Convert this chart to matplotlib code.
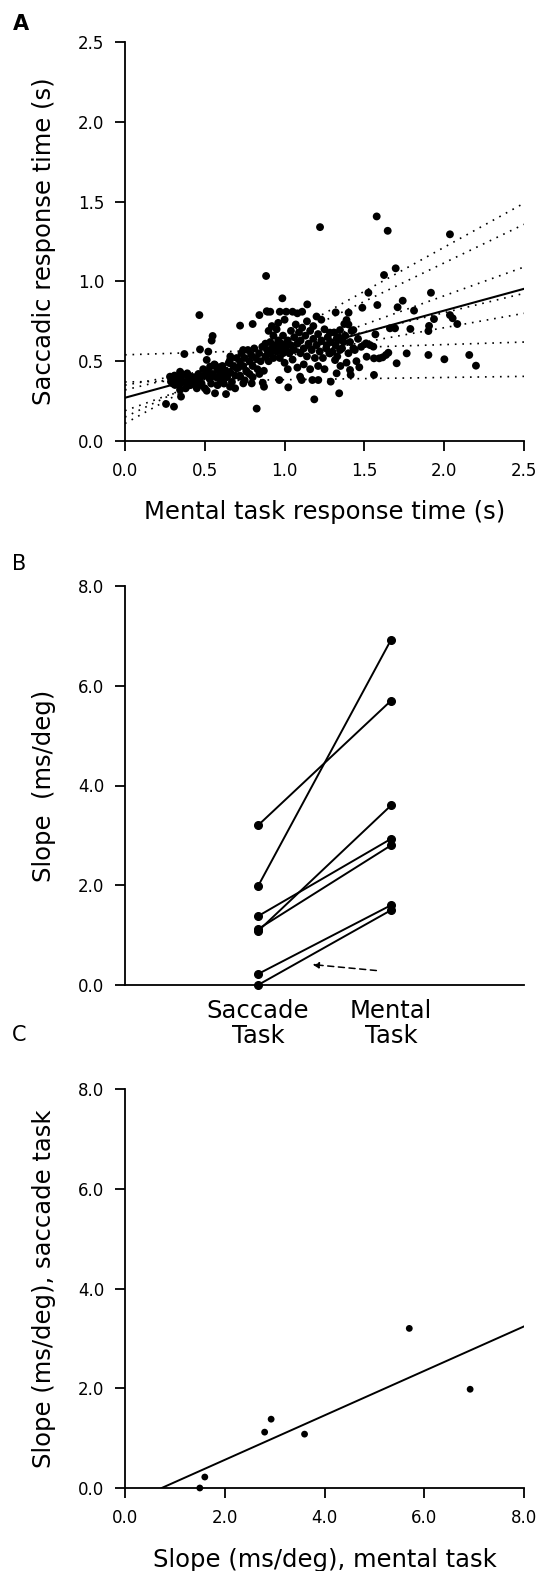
import numpy as np
import matplotlib.pyplot as plt
from matplotlib.ticker import FormatStrFormatter

plt.rcParams['font.family'] = ['DejaVu Sans']

# A: trial response times (s), mental task vs saccade
mental_rt = [
    1.222, 1.577, 1.646, 2.036, 0.884, 0.986, 1.142, 1.623, 1.696, 1.525,
    1.917, 1.740, 1.708, 1.811, 1.581, 1.487, 1.320, 1.401, 1.388, 1.374,
    1.431, 1.936, 1.905, 1.901, 2.036, 2.053, 2.082, 1.788, 1.692, 1.660,
    1.569, 1.510, 1.535, 1.556, 1.514, 1.560, 1.593, 1.614, 1.635, 1.650,
    1.702, 1.765, 1.901, 2.001, 2.157, 2.199, 1.560, 1.468, 1.414, 1.410,
    1.388, 1.431, 1.339, 1.327, 1.347, 1.347, 1.284, 1.264, 1.284, 1.316,
    1.326, 1.342, 1.289, 1.186, 1.211, 1.174, 1.097, 1.107, 1.023, 0.967,
    0.825, 0.871, 0.863, 0.842, 0.794, 0.741, 0.721, 0.762, 0.700, 0.658,
    0.621, 0.658, 0.633, 0.564, 0.512, 0.470, 0.428, 0.391, 0.408, 0.355,
    0.390, 0.345, 0.351, 0.307, 0.257, 0.282, 0.288, 0.324, 0.313, 0.345,
    0.372, 0.466, 0.470, 0.522, 0.549, 0.543, 0.512, 0.564, 0.595, 0.533,
    0.721, 0.800, 0.842, 0.894,
    0.29, 0.30, 0.31, 0.33, 0.34, 0.35, 0.37, 0.38, 0.39, 0.40,
    0.41, 0.43, 0.44, 0.45, 0.46, 0.47, 0.48, 0.49, 0.50, 0.50,
    0.52, 0.53, 0.54, 0.55, 0.56, 0.57, 0.58, 0.58, 0.60, 0.60,
    0.61, 0.62, 0.63, 0.64, 0.65, 0.66, 0.67, 0.68, 0.69, 0.70,
    0.66, 0.69,
    0.71, 0.72, 0.72, 0.73, 0.74, 0.75, 0.75, 0.76, 0.77, 0.78,
    0.78, 0.79, 0.80, 0.81, 0.82, 0.83, 0.84, 0.85, 0.86, 0.87,
    0.88, 0.89, 0.90, 0.74, 0.80,
    0.91, 0.91, 0.92, 0.93, 0.93, 0.94, 0.95, 0.95, 0.96, 0.97,
    0.97, 0.98, 0.99, 0.99, 1.00, 1.00, 1.01, 1.02, 1.02, 1.03,
    1.04, 1.04, 1.05, 1.06, 1.06, 1.07, 1.08, 1.08, 1.09, 1.10,
    0.90, 0.92, 0.96, 1.00, 0.88,
    1.10, 1.11, 1.12, 1.12, 1.13, 1.14, 1.14, 1.15, 1.16, 1.16,
    1.17, 1.18, 1.18, 1.19, 1.20, 1.21, 1.21, 1.22, 1.23, 1.23,
    1.24, 1.25, 1.25, 1.26, 1.27, 1.28, 1.29, 1.30, 1.31, 1.32,
    1.33, 1.34, 1.36, 1.37, 1.35, 1.20,
    1.38, 1.40, 1.41, 1.42, 1.44, 1.45, 1.46, 1.48, 1.40,
    0.888, 0.91, 0.97, 1.01, 1.05, 1.08, 1.11,
]
saccade_rt = [
    1.340, 1.407, 1.317, 1.295, 1.034, 0.894, 0.856, 1.040, 1.082, 0.929,
    0.929, 0.879, 0.838, 0.817, 0.852, 0.835, 0.806, 0.804, 0.758, 0.733,
    0.695, 0.764, 0.721, 0.689, 0.789, 0.769, 0.733, 0.702, 0.706, 0.706,
    0.668, 0.612, 0.601, 0.591, 0.528, 0.518, 0.518, 0.524, 0.539, 0.553,
    0.487, 0.549, 0.539, 0.512, 0.539, 0.472, 0.414, 0.462, 0.414, 0.445,
    0.491, 0.581, 0.633, 0.643, 0.570, 0.695, 0.679, 0.601, 0.549, 0.507,
    0.424, 0.299, 0.372, 0.261, 0.382, 0.382, 0.403, 0.382, 0.336, 0.382,
    0.203, 0.340, 0.365, 0.420, 0.361, 0.361, 0.403, 0.434, 0.455, 0.507,
    0.403, 0.340, 0.294, 0.299, 0.315, 0.351, 0.361, 0.345, 0.393, 0.420,
    0.424, 0.320, 0.278, 0.215, 0.232, 0.403, 0.372, 0.378, 0.351, 0.434,
    0.545, 0.789, 0.574, 0.560, 0.658, 0.629, 0.508, 0.476, 0.462, 0.466,
    0.723, 0.733, 0.789, 0.810,
    0.39, 0.36, 0.41, 0.38, 0.35, 0.40, 0.37, 0.33, 0.41, 0.38,
    0.35, 0.40, 0.37, 0.33, 0.42, 0.39, 0.36, 0.45, 0.41, 0.33,
    0.44, 0.39, 0.36, 0.42, 0.48, 0.40, 0.35, 0.45, 0.42, 0.38,
    0.47, 0.36, 0.44, 0.40, 0.49, 0.43, 0.37, 0.47, 0.41, 0.52,
    0.53, 0.33,
    0.46, 0.50, 0.41, 0.55, 0.47, 0.52, 0.38, 0.44, 0.57, 0.50,
    0.42, 0.54, 0.47, 0.58, 0.52, 0.45, 0.55, 0.50, 0.59, 0.44,
    0.53, 0.57, 0.50, 0.57, 0.40,
    0.55, 0.62, 0.58, 0.52, 0.66, 0.60, 0.56, 0.70, 0.63, 0.58,
    0.52, 0.61, 0.66, 0.55, 0.60, 0.49, 0.57, 0.63, 0.45, 0.55,
    0.60, 0.69, 0.51, 0.65, 0.57, 0.73, 0.61, 0.46, 0.68, 0.55,
    0.69, 0.72, 0.74, 0.76, 0.61,
    0.63, 0.71, 0.48, 0.58, 0.66, 0.75, 0.53, 0.61, 0.69, 0.45,
    0.57, 0.64, 0.72, 0.52, 0.60, 0.67, 0.47, 0.56, 0.63, 0.76,
    0.52, 0.70, 0.45, 0.58, 0.65, 0.55, 0.62, 0.56, 0.68, 0.60,
    0.53, 0.65, 0.58, 0.62, 0.47, 0.78,
    0.66, 0.55, 0.62, 0.69, 0.57, 0.50, 0.64, 0.59, 0.73,
    0.813, 0.81, 0.81, 0.81, 0.81, 0.80, 0.81,
]
# regression lines: pooled (solid) and one per subject (dotted)
pooled_icpt, pooled_slope = 0.271, 0.273
subject_icpt = [0.11, 0.15, 0.19, 0.32, 0.35, 0.37, 0.54]
subject_slope = [0.552, 0.483, 0.360, 0.242, 0.180, 0.014, 0.032]

# B, C: slope of response time vs angle per subject (ms/deg)
saccade_slope = [0.00, 0.22, 1.12, 1.38, 1.08, 3.20, 1.98]
mental_slope = [1.50, 1.60, 2.80, 2.93, 3.60, 5.70, 6.92]
task_labels = ['Saccade\nTask', 'Mental\nTask']
fit_icpt, fit_slope = -0.328, 0.446

W, H = 542, 1571
fig = plt.figure(figsize=(W / 100, H / 100), dpi=100)


def make_axes(top_px):
    return fig.add_axes([125 / W, 1 - (top_px + 399) / H, 399 / W, 399 / H])


def style(ax):
    ax.spines['top'].set_visible(False)
    ax.spines['right'].set_visible(False)
    for s in ['left', 'bottom']:
        ax.spines[s].set_linewidth(1.3)
    ax.tick_params(direction='out', length=7, width=1.3, labelsize=12, pad=8)
    ax.yaxis.set_major_formatter(FormatStrFormatter('%.1f'))


lab = 17.5

# ---- A ----
axA = make_axes(42)
style(axA)
xs = np.array([0.0, 2.5])
for b, m in zip(subject_icpt, subject_slope):
    axA.plot(xs, b + m * xs, color='k', lw=1.2, ls=(0, (1, 3.5)), zorder=1)
axA.scatter(mental_rt, saccade_rt, s=32, color='k', edgecolors='none', zorder=2)
axA.plot(xs, pooled_icpt + pooled_slope * xs, color='k', lw=1.5, zorder=3)
axA.set_xlim(0, 2.5)
axA.set_ylim(0, 2.5)
axA.set_xticks(np.arange(0, 2.51, 0.5))
axA.set_yticks(np.arange(0, 2.51, 0.5))
axA.xaxis.set_major_formatter(FormatStrFormatter('%.1f'))
axA.set_xlabel('Mental task response time (s)', fontsize=lab, va='center')
axA.set_ylabel('Saccadic response time (s)', fontsize=lab, va='center')
axA.xaxis.set_label_coords(0.5, -0.178)
axA.yaxis.set_label_coords(-0.203, 0.5)
axA.patch.set_visible(False)
fig.text(13 / W, 1 - 14 / H, 'A', fontsize=15, fontweight='bold', va='top')

# ---- B ----
axB = make_axes(586)
style(axB)
for s, m in zip(saccade_slope, mental_slope):
    axB.plot([1, 2], [s, m], color='k', lw=1.4, marker='o', ms=5.5, clip_on=False)
axB.annotate('', xy=(1.41, 0.41), xytext=(1.89, 0.29),
             arrowprops=dict(arrowstyle='-|>', color='k', lw=1.1,
                             ls=(0, (4, 3)), mutation_scale=9,
                             shrinkA=0, shrinkB=0))
axB.set_xlim(0, 3)
axB.set_ylim(0, 8)
axB.set_yticks([0, 2, 4, 6, 8])
axB.set_xticks([1, 2])
axB.set_xticklabels(task_labels, fontsize=lab, linespacing=1.05)
axB.tick_params(axis='x', length=0, pad=10)
axB.set_ylabel('Slope  (ms/deg)', fontsize=lab, va='center')
axB.yaxis.set_label_coords(-0.203, 0.5)
fig.text(12 / W, 1 - 554 / H, 'B', fontsize=15, va='top')

# ---- C ----
axC = make_axes(1089)
style(axC)
axC.scatter(mental_slope, saccade_slope, s=24, color='k', edgecolors='none',
            zorder=3, clip_on=False)
x0 = -fit_icpt / fit_slope
xf = np.array([x0, 8.0])
axC.plot(xf, fit_icpt + fit_slope * xf, color='k', lw=1.4)
axC.set_xlim(0, 8)
axC.set_ylim(0, 8)
axC.set_xticks([0, 2, 4, 6, 8])
axC.set_yticks([0, 2, 4, 6, 8])
axC.xaxis.set_major_formatter(FormatStrFormatter('%.1f'))
axC.set_xlabel('Slope (ms/deg), mental task', fontsize=lab, va='center')
axC.set_ylabel('Slope (ms/deg), saccade task', fontsize=lab, va='center')
axC.xaxis.set_label_coords(0.5, -0.180)
axC.yaxis.set_label_coords(-0.203, 0.5)
fig.text(12 / W, 1 - 1025 / H, 'C', fontsize=15, va='top')

fig.savefig('out.png', dpi=100)
